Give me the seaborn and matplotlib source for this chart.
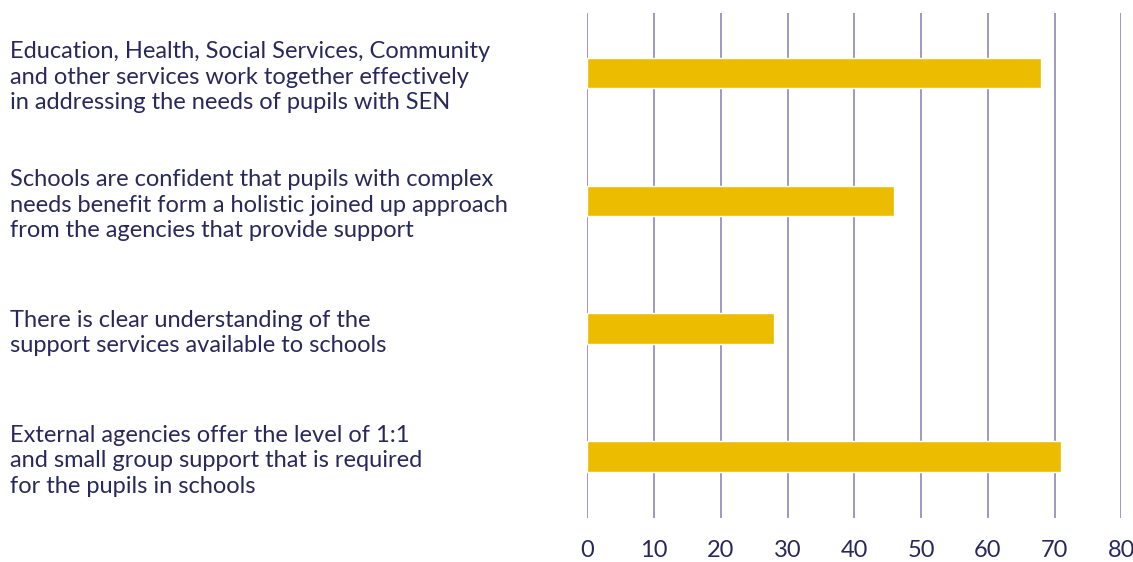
import matplotlib
matplotlib.use("Agg")
import matplotlib.pyplot as plt
import seaborn as sns
import pandas as pd

categories = [
    "Education, Health, Social Services, Community\nand other services work together effectively\nin addressing the needs of pupils with SEN",
    "Schools are confident that pupils with complex\nneeds benefit form a holistic joined up approach\nfrom the agencies that provide support",
    "There is clear understanding of the\nsupport services available to schools",
    "External agencies offer the level of 1:1\nand small group support that is required\nfor the pupils in schools",
]
values = [68, 46, 28, 71]
x_ticks = [0, 10, 20, 30, 40, 50, 60, 70, 80]

sns.set_theme(style="white")
plt.rcParams['font.family'] = ['Lato', 'DejaVu Sans']

text_color = "#28285c"
grid_color = "#9d99c2"
bar_color = "#ebbc00"

df = pd.DataFrame({"category": categories, "value": values})

fig = plt.figure(figsize=(11.33, 5.62), dpi=100)
ax = fig.add_axes([587.3 / 1133, 1 - 518 / 562, (1121.3 - 587.3) / 1133, (518 - 13) / 562])

sns.barplot(data=df, x="value", y="category", color=bar_color, width=0.24,
            saturation=1, ax=ax, zorder=3)

ax.set_xlim(0, 80)
ax.set_ylim(3.48, -0.47)
ax.set_xticks(x_ticks)
ax.set_xlabel("")
ax.set_ylabel("")
for s in ax.spines.values():
    s.set_visible(False)
ax.grid(axis="x", color=grid_color, linewidth=1.4, zorder=0)
ax.grid(axis="y", visible=False)

ax.tick_params(axis="x", length=0, pad=16, labelsize=17, labelcolor=text_color)
ax.tick_params(axis="y", length=0, pad=577 * 72 / 100, labelsize=17, labelcolor=text_color)
for lbl in ax.get_yticklabels():
    lbl.set_horizontalalignment("left")
    lbl.set_linespacing(1.25)

fig.savefig("out.png", dpi=100)
